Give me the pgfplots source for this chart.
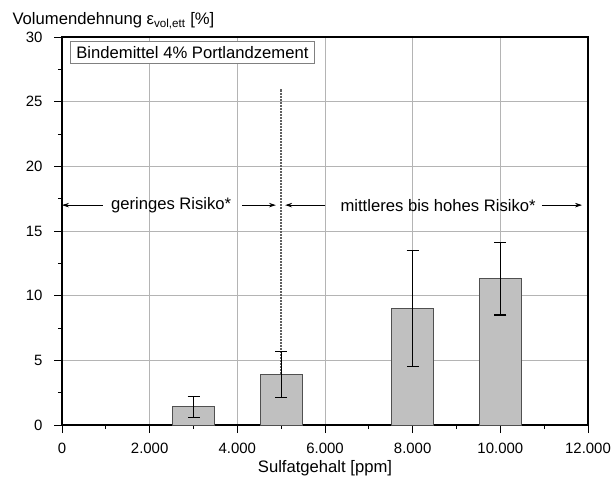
\documentclass[border=0pt]{standalone}
\usepackage{fontspec}
\setmainfont{Liberation Sans}
\usepackage{pgfplots}
\usepackage{pgfplotstable}
\pgfplotsset{compat=1.18}
\usetikzlibrary{arrows.meta}
\definecolor{barfill}{HTML}{C0C0C0}
\definecolor{bardraw}{HTML}{505050}
\definecolor{gridc}{HTML}{B4B4B4}
\definecolor{dotc}{HTML}{606060}
\pgfplotstableread{
x y err
3000 1.4 0.8
5000 3.9 1.8
8000 9.0 4.5
10000 11.3 2.8
}\data
\newcommand{\bigf}{\fontsize{16.7}{19}\selectfont}
\newcommand{\tickf}{\fontsize{15}{17}\selectfont}
\begin{document}
\begin{tikzpicture}[font=\bigf]
\begin{axis}[
  name=ax,
  scale only axis,
  width=526bp, height=388bp,
  xmin=0, xmax=12000, ymin=0, ymax=30,
  xtick={0,2000,...,12000},
  ytick={0,5,...,30},
  minor x tick num=1,
  minor y tick num=1,
  tick pos=left,
  tick align=outside,
  major tick length=8bp,
  minor tick length=4bp,
  tick style={black, line width=1pt},
  axis line style={black, line width=1.2pt},
  grid=major,
  major grid style={gridc, line width=0.6pt},
  scaled x ticks=false,
  /pgf/number format/.cd, 1000 sep={.}, assume math mode=true,
  /pgfplots/.cd,
  xticklabel style={font=\tickf, yshift=-7bp},
  yticklabel style={font=\tickf, xshift=-8bp},
  xlabel={Sulfatgehalt [ppm]},
  xlabel style={font=\bigf, yshift=0bp},
  clip=false,
]
\addplot[dotc, dash pattern=on 2bp off 1bp, line width=1.5pt] coordinates {(5000,0) (5000,26)};
\addplot[ybar, bar width=950, fill=barfill, draw=bardraw, line width=0.9pt,
  error bars/.cd, y dir=both, y explicit,
  error bar style={black, line width=1.2pt},
  error mark options={rotate=90, mark size=6bp, black, line width=1.2pt}]
  table[x=x, y=y, y error=err] {\data};
\draw[-{Stealth[length=7bp,width=4.5bp]}, line width=0.8pt] (axis cs:935,17) -- (axis cs:0,17);
\draw[-{Stealth[length=7bp,width=4.5bp]}, line width=0.8pt] (axis cs:4107,17) -- (axis cs:4880,17);
\node[font=\bigf] at (axis cs:2490,17) {geringes Risiko*};
\draw[-{Stealth[length=7bp,width=4.5bp]}, line width=0.8pt] (axis cs:6000,17) -- (axis cs:5090,17);
\draw[-{Stealth[length=7bp,width=4.5bp]}, line width=0.8pt] (axis cs:10950,17) -- (axis cs:11865,17);
\node[font=\bigf] at (axis cs:8580,17) {mittleres bis hohes Risiko*};
\node[font=\bigf, draw=gray, line width=0.8pt, fill=white, anchor=north west, inner xsep=6bp, inner ysep=3bp, minimum height=22bp]
  at ([xshift=8bp,yshift=-4bp]rel axis cs:0,1) {Bindemittel 4\% Portlandzement};
\end{axis}
\node[anchor=base west, font=\bigf] at ([xshift=-53bp,yshift=12bp]ax.north west) {Volumendehnung ε\textsubscript{vol,ett} [\%]};
\pgfresetboundingbox
\path ([xshift=-62bp,yshift=-58bp]ax.south west) rectangle ([xshift=26bp,yshift=37bp]ax.north east);
\end{tikzpicture}
\end{document}
